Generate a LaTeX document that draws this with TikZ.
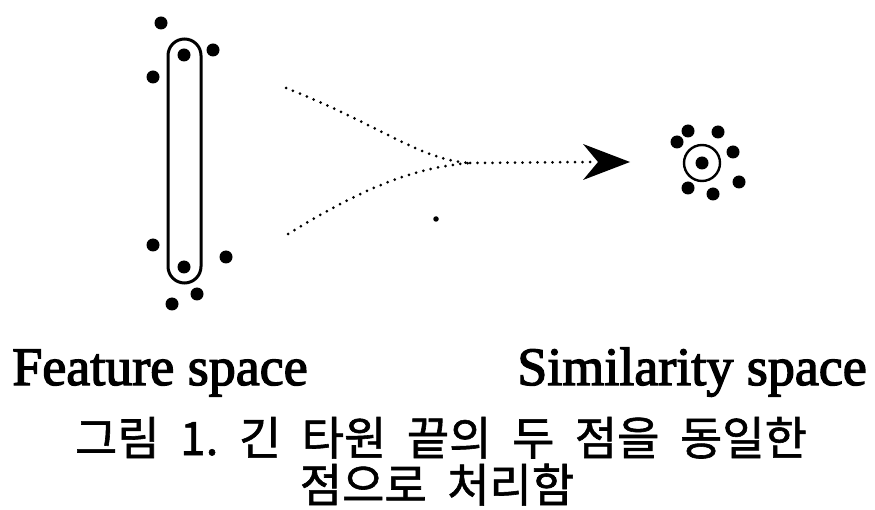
\documentclass[tikz,border=0pt]{standalone}
\usepackage{fontspec}
\setmainfont{Liberation Serif}
\newfontfamily\kofont[FakeBold=1.3]{Noto Sans CJK KR}
\newcommand\kgap{\hspace{20.5pt}}
\begin{document}
\begin{tikzpicture}[x=1pt,y=-1pt,
  pt/.style={circle,fill=black,inner sep=0pt,minimum size=13pt},
  dotline/.style={line width=3pt,line cap=round,dash pattern=on 0pt off 7.5pt},
  lbl/.style={font=\fontsize{54}{60}\selectfont\addfontfeature{FakeBold=2.5},inner sep=0pt,anchor=base},
  ko/.style={font=\kofont\fontsize{46}{52}\selectfont,inner sep=0pt,anchor=base}]
\useasboundingbox (0,0) rectangle (875,510);
% feature space
\draw[line width=3pt,rounded corners=16.5pt] (168,39) rectangle (201,283);
\node[pt] (a1) at (161,23) {};
\node[pt] (a2) at (213,50) {};
\node[pt] (a3) at (153,77) {};
\node[pt] (ain1) at (184,55) {};
\node[pt] (a4) at (153,245) {};
\node[pt] (a5) at (226,257) {};
\node[pt] (ain2) at (184,267) {};
\node[pt] (a6) at (197,294) {};
\node[pt] (a7) at (172,304) {};
% arrow
\coordinate (u0) at (286,88);
\coordinate (l0) at (288,234);
\coordinate (m) at (470,163);
\coordinate (tip) at (630,162);
\draw[dotline] (u0) .. controls (380,125) and (420,160) .. (m);
\draw[dotline] (l0) .. controls (360,190) and (410,168) .. (m);
\draw[dotline] (m) -- (590,162);
\fill (tip) -- (583,144) -- (598,162) -- (583,180) -- cycle;
\node[circle,fill=black,inner sep=0pt,minimum size=5.5pt] (stray) at (436,219) {};
% similarity space
\node[pt] (sc) at (702,163) {};
\draw[line width=2.4pt] (sc) circle (18pt);
\node[pt] (s1) at (688,131) {};
\node[pt] (s2) at (677,142) {};
\node[pt] (s3) at (718,132) {};
\node[pt] (s4) at (733,152) {};
\node[pt] (s5) at (739,182) {};
\node[pt] (s6) at (713,194) {};
\node[pt] (s7) at (688,188) {};
% labels
\node[lbl] (fs) at (160,385) {Feature space};
\node[lbl] (ss) at (692,385) {Similarity space};
\node[ko] (c1) at (441,455) {그림\kgap 1.\kgap 긴\kgap 타원\kgap 끝의\kgap 두\kgap 점을\kgap 동일한};
\node[ko] (c2) at (437,502) {점으로\kgap 처리함};
\end{tikzpicture}
\end{document}
